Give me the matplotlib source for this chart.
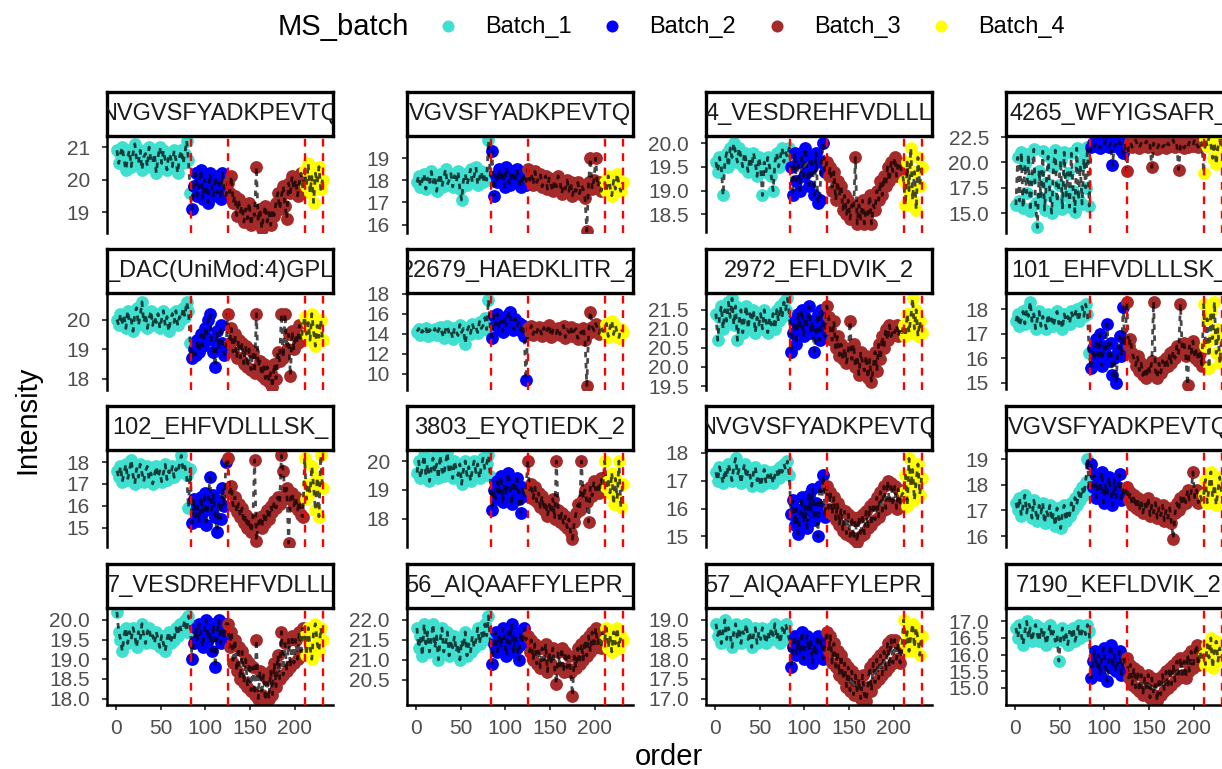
import numpy as np
import matplotlib
matplotlib.use("Agg")
import matplotlib.pyplot as plt

plt.rcParams["font.family"] = ["Liberation Sans", "DejaVu Sans"]

W, H, DPI = 1222, 769, 100

batch_names = ["Batch_1", "Batch_2", "Batch_3", "Batch_4"]
batch_colors = ["#40E0D0", "#0000FF", "#A52A2A", "#FFFF00"]
batch_start = [1, 85, 125, 211]      # first injection order of each batch
order_step = 2                         # every second injection
batch_breaks = [83.5, 125, 211, 231]

titles = [
    "NVGVSFYADKPEVTQ", "VGVSFYADKPEVTQ", "4_VESDREHFVDLLL", "4265_WFYIGSAFR_",
    "_DAC(UniMod:4)GPL", "22679_HAEDKLITR_2", "2972_EFLDVIK_2", "101_EHFVDLLLSK_",
    "102_EHFVDLLLSK_", "3803_EYQTIEDK_2", "NVGVSFYADKPEVTQ", "VGVSFYADKPEVTQ",
    "7_VESDREHFVDLLL", "56_AIQAAFFYLEPR_", "57_AIQAAFFYLEPR_", "7190_KEFLDVIK_2",
]

yticks = [
    [19, 20, 21], [16, 17, 18, 19], [18.5, 19, 19.5, 20], [15, 17.5, 20, 22.5],
    [18, 19, 20], [10, 12, 14, 16, 18], [19.5, 20, 20.5, 21, 21.5], [15, 16, 17, 18],
    [15, 16, 17, 18], [18, 19, 20], [15, 16, 17, 18], [16, 17, 18, 19],
    [18, 18.5, 19, 19.5, 20], [20.5, 21, 21.5, 22], [17, 17.5, 18, 18.5, 19], [15, 15.5, 16, 16.5, 17],
]

ylims = [
    (18.38, 21.34), (15.64, 20.0), (18.12, 20.15), (13.1, 22.6),
    (17.63, 20.9), (8.4, 18.05), (19.41, 21.94), (14.73, 18.65),
    (14.14, 18.55), (17.05, 20.38), (14.64, 18.1), (15.6, 19.35),
    (17.85, 20.3), (19.88, 22.3), (16.85, 19.3), (14.5, 17.4),
]

# intensities per panel: (Batch_1, Batch_2, Batch_3, Batch_4)
p01 = (
    [20.9, 20.5, 20.8, 21.0, 20.6, 20.3, 20.7, 20.9, 20.4, 20.8, 21.1, 20.6, 20.5, 20.9,
     20.3, 20.7, 20.8, 20.4, 21.0, 20.6, 20.5, 20.8, 20.2, 20.7, 21.0, 20.5, 20.9, 20.6,
     20.3, 20.8, 20.7, 20.4, 20.9, 20.6, 20.2, 20.7, 20.9, 20.5, 20.8, 21.2, 20.6, 19.6],
    [19.1, 19.8, 20.2, 19.5, 19.9, 20.3, 19.4, 20.0, 19.7, 19.3, 20.2, 19.8, 19.5, 20.1,
     19.6, 19.9, 19.4, 20.2, 19.7, 19.5],
    [19.9, 19.6, 20.1, 19.3, 19.5, 18.9, 19.4, 19.0, 19.2, 18.7, 19.1, 18.8, 19.3, 18.6,
     19.0, 18.9, 20.4, 18.7, 19.1, 18.5, 18.9, 19.2, 18.7, 19.0, 18.6, 19.1, 18.9, 19.3,
     19.6, 19.1, 19.5, 19.8, 19.2, 18.8, 19.9, 19.6, 20.1, 19.7, 20.0, 19.5, 19.9, 20.2, 19.7],
    [20.3, 19.8, 20.5, 19.6, 20.1, 19.3, 20.2, 19.9, 20.4, 19.7, 20.0],
)
p02 = (
    [17.9, 18.2, 17.7, 18.0, 18.3, 17.6, 18.1, 17.8, 18.4, 17.9, 18.2, 17.5, 18.0, 18.3,
     17.7, 18.1, 18.5, 17.8, 18.0, 18.3, 17.7, 18.2, 17.9, 18.4, 17.6, 17.1, 18.0, 18.3,
     17.8, 18.1, 18.5, 17.9, 18.2, 18.6, 17.8, 18.1, 18.4, 17.9, 18.3, 18.0, 19.8, 18.2],
    [19.3, 17.3, 18.2, 17.9, 18.5, 18.0, 18.4, 17.7, 18.6, 18.1, 17.8, 18.4, 18.2, 17.9,
     18.5, 18.0, 17.7, 18.3, 18.1, 17.8],
    [18.5, 18.0, 18.3, 17.8, 18.4, 17.9, 18.1, 18.3, 17.7, 18.0, 18.2, 17.6, 18.1, 17.8,
     17.5, 18.0, 17.7, 18.2, 17.9, 17.4, 17.8, 17.6, 18.0, 17.5, 17.9, 17.3, 17.7, 17.5,
     17.9, 17.4, 17.8, 17.6, 17.2, 15.7, 17.9, 19.0, 17.6, 18.0, 19.0, 17.7, 17.9, 17.5, 17.8],
    [17.9, 17.5, 18.2, 17.7, 17.3, 18.0, 17.6, 18.3, 17.8, 17.5, 17.9],
)
p03 = (
    [19.6, 19.4, 19.7, 19.5, 18.9, 19.6, 19.8, 19.5, 19.9, 19.7, 20.0, 19.8, 19.6, 19.9,
     19.7, 19.5, 19.8, 19.6, 19.4, 19.7, 19.5, 19.8, 19.6, 19.3, 19.7, 19.5, 18.9, 19.6,
     19.4, 19.7, 19.5, 19.3, 19.0, 19.6, 19.8, 19.5, 19.7, 19.9, 19.6, 19.8, 19.7, 19.9],
    [19.5, 18.9, 19.8, 19.2, 19.6, 19.0, 19.7, 19.3, 19.9, 19.4, 19.1, 19.7, 19.5, 18.9,
     19.8, 18.75, 18.8, 19.6, 20.0, 19.4],
    [19.6, 19.3, 19.5, 19.0, 19.4, 18.8, 19.2, 18.9, 19.1, 18.6, 18.9, 18.5, 18.8, 18.4,
     18.7, 18.6, 19.7, 18.3, 18.7, 18.4, 18.8, 18.3, 18.6, 18.5, 18.9, 18.3, 18.7, 18.6,
     19.0, 18.8, 19.2, 18.9, 19.3, 19.1, 19.5, 19.2, 19.6, 19.4, 19.7, 19.3, 19.6, 19.5, 19.4],
    [19.2, 18.7, 19.6, 19.0, 19.9, 18.8, 19.4, 18.6, 19.7, 19.1, 19.5],
)
p04 = (
    [15.8, 20.5, 16.2, 21.0, 15.5, 19.8, 17.0, 20.8, 15.2, 18.5, 21.3, 16.0, 13.6, 19.2,
     16.5, 21.1, 15.3, 18.0, 20.6, 16.8, 15.0, 19.5, 21.2, 16.1, 17.8, 20.2, 15.4, 21.0,
     16.7, 19.0, 15.6, 20.9, 17.2, 15.1, 21.4, 16.3, 19.7, 15.9, 20.4, 17.5, 21.5, 15.7],
    [21.5, 21.9, 21.6, 22.0, 21.7, 21.4, 21.8, 21.6, 22.1, 21.7, 21.5, 21.9, 19.7, 21.6,
     21.8, 21.5, 22.0, 21.2, 20.9, 21.7],
    [19.2, 21.6, 22.0, 21.5, 21.8, 22.2, 21.7, 21.4, 21.9, 21.6, 21.8, 22.1, 21.5, 21.7,
     19.5, 21.9, 21.6, 21.3, 21.8, 22.0, 21.5, 21.7, 21.4, 21.9, 21.6, 21.8, 22.2, 21.5,
     21.7, 19.3, 21.6, 21.9, 21.4, 21.8, 21.5, 22.0, 21.7, 21.6, 22.3, 21.8, 21.5, 22.1, 21.9],
    [19.0, 22.3, 21.6, 22.5, 21.8, 20.4, 22.0, 19.8, 21.5, 22.2, 21.3],
)
p05 = (
    [20.0, 19.8, 20.2, 19.9, 20.1, 19.7, 20.3, 19.9, 20.0, 19.6, 20.2, 20.4, 19.8, 20.1,
     20.6, 19.9, 20.2, 19.7, 20.0, 20.3, 19.8, 20.1, 19.9, 20.2, 19.7, 20.0, 20.3, 19.8,
     20.1, 19.6, 20.0, 20.2, 19.9, 20.3, 19.8, 20.1, 20.0, 20.4, 20.1, 20.6, 20.3, 19.2],
    [18.7, 19.0, 18.8, 19.3, 18.9, 19.5, 19.1, 19.7, 19.4, 20.0, 20.2, 19.3, 18.9, 18.4,
     19.6, 19.0, 19.8, 19.2, 18.8, 19.1],
    [20.2, 19.2, 19.7, 18.9, 19.5, 18.7, 19.3, 18.7, 19.2, 18.5, 19.1, 18.4, 19.0, 18.3,
     18.9, 18.2, 20.2, 18.4, 18.6, 18.1, 18.5, 18.0, 18.4, 17.9, 18.2, 17.7, 18.5, 18.0,
     18.9, 18.6, 20.2, 18.7, 20.2, 19.0, 19.5, 18.1, 19.6, 19.0, 19.5, 19.2, 19.8, 19.3, 19.7],
    [20.1, 19.5, 19.9, 19.3, 20.2, 19.6, 19.1, 19.8, 19.4, 20.0, 19.3],
)
p06 = (
    [14.2, 14.5, 13.9, 14.3, 14.1, 14.6, 13.8, 14.4, 14.2, 14.0, 14.5, 13.9, 14.3, 14.7,
     14.1, 13.6, 14.4, 14.8, 14.0, 14.3, 13.5, 14.6, 14.2, 13.8, 14.9, 14.1, 14.5, 13.0,
     14.2, 14.7, 14.0, 15.0, 14.3, 14.6, 14.1, 15.2, 14.5, 14.8, 15.6, 14.4, 17.4, 14.6],
    [13.6, 15.8, 14.9, 16.0, 14.5, 15.3, 14.2, 15.6, 14.8, 15.9, 16.2, 15.0, 14.4, 15.5,
     14.7, 15.1, 14.3, 14.9, 13.8, 9.4],
    [14.6, 14.2, 14.8, 13.9, 14.5, 14.1, 14.7, 14.3, 13.8, 14.6, 14.0, 14.4, 14.9, 13.7,
     14.3, 14.5, 14.0, 14.6, 13.9, 14.2, 14.8, 13.6, 14.4, 14.1, 14.7, 13.8, 14.3, 14.5,
     13.5, 14.2, 14.0, 14.6, 13.4, 8.8, 14.1, 16.2, 14.7, 14.3, 15.0, 14.5, 14.0, 14.8, 14.2],
    [14.3, 15.0, 13.7, 14.6, 15.3, 13.9, 14.8, 14.1, 13.6, 14.5, 14.2],
)
p07 = (
    [21.4, 20.7, 21.3, 21.6, 21.0, 21.5, 21.2, 21.7, 21.3, 21.8, 21.1, 21.6, 20.7, 21.2,
     21.5, 20.9, 21.3, 21.6, 21.0, 21.4, 21.2, 21.5, 20.9, 21.3, 21.1, 21.4, 21.0, 21.5,
     21.2, 20.9, 21.3, 21.1, 21.4, 21.0, 21.5, 21.2, 21.6, 21.3, 21.7, 21.5, 21.8, 21.4],
    [20.4, 20.9, 21.2, 20.6, 21.4, 21.0, 21.5, 20.8, 21.3, 21.1, 21.6, 20.9, 21.2, 20.4,
     21.0, 21.4, 20.7, 21.5, 21.1, 20.8],
    [21.6, 21.3, 21.0, 20.7, 21.2, 20.5, 20.8, 20.3, 20.6, 20.2, 20.5, 20.1, 20.4, 21.2,
     20.2, 20.6, 20.0, 20.3, 19.8, 20.4, 20.1, 19.9, 20.3, 19.7, 20.2, 19.6, 20.0, 20.4,
     19.9, 20.6, 20.2, 20.8, 20.5, 21.0, 20.7, 21.1, 20.8, 21.0, 20.9, 21.1, 20.8, 21.0, 20.9],
    [21.1, 20.8, 21.4, 20.9, 21.3, 21.8, 21.0, 21.5, 20.8, 21.2, 20.9],
)
p08 = (
    [17.5, 17.8, 17.3, 17.6, 17.9, 17.4, 18.0, 17.7, 18.3, 17.5, 17.8, 17.2, 17.6, 17.9,
     17.3, 17.7, 17.5, 17.2, 17.8, 17.4, 17.6, 17.3, 17.7, 17.9, 17.4, 17.6, 17.2, 17.8,
     17.5, 17.7, 17.4, 17.9, 17.6, 17.8, 18.0, 17.5, 17.9, 18.1, 17.7, 18.2, 17.8, 16.2],
    [15.6, 16.4, 15.9, 16.8, 16.1, 17.0, 15.7, 16.5, 16.2, 17.4, 15.9, 16.6, 15.3, 16.0,
     15.0, 16.3, 16.9, 16.1, 18.1, 16.5],
    [18.3, 16.5, 16.8, 16.2, 16.0, 15.7, 16.1, 15.5, 15.8, 15.3, 15.6, 15.2, 15.7, 15.4,
     15.9, 18.3, 15.5, 15.2, 15.8, 15.4, 15.9, 15.6, 16.0, 15.7, 16.2, 15.8, 16.3, 16.0,
     16.5, 16.2, 18.2, 16.4, 16.6, 16.1, 14.9, 16.5, 16.2, 16.7, 16.0, 16.4, 15.9, 16.2, 15.7],
    [18.2, 16.5, 17.6, 15.6, 17.9, 16.8, 18.3, 16.2, 17.2, 15.8, 16.9],
)
p09 = (
    [17.6, 17.3, 17.8, 17.1, 17.5, 17.9, 17.2, 17.6, 18.1, 17.4, 17.0, 17.7, 17.3, 17.9,
     17.5, 17.1, 17.6, 17.8, 17.2, 17.5, 17.0, 17.4, 17.8, 17.3, 17.6, 17.1, 17.5, 17.9,
     17.2, 17.6, 17.4, 17.8, 17.3, 17.7, 17.5, 17.9, 18.3, 17.6, 17.8, 17.4, 15.9, 17.7],
    [15.2, 16.3, 15.5, 16.0, 15.3, 16.4, 15.7, 16.6, 15.1, 16.1, 17.3, 15.8, 16.5, 15.5,
     14.8, 16.2, 15.4, 16.8, 16.0, 18.0],
    [18.2, 16.6, 16.9, 16.0, 16.4, 15.7, 16.1, 15.5, 15.9, 15.2, 15.6, 15.0, 15.4, 14.8,
     15.3, 18.1, 14.4, 15.1, 15.5, 15.0, 15.6, 15.2, 15.8, 15.4, 16.0, 15.7, 16.2, 15.9,
     16.4, 16.1, 18.3, 17.6, 16.5, 16.8, 14.3, 16.3, 16.6, 16.0, 16.4, 15.8, 16.2, 15.6, 15.5],
    [18.2, 16.3, 17.0, 16.6, 17.8, 16.9, 15.8, 17.3, 15.5, 18.3, 16.8],
)
p10 = (
    [19.6, 20.0, 19.4, 19.8, 20.2, 19.5, 19.9, 19.3, 19.7, 20.1, 19.6, 19.9, 19.4, 20.2,
     19.7, 19.5, 19.9, 20.3, 19.6, 19.8, 19.4, 20.0, 19.7, 19.5, 19.9, 19.2, 19.7, 20.0,
     19.5, 19.8, 19.3, 19.7, 20.0, 19.6, 19.9, 19.4, 19.8, 20.1, 19.7, 19.9, 20.2, 19.5],
    [18.3, 19.0, 18.7, 19.3, 18.9, 19.5, 18.6, 19.2, 18.8, 19.6, 19.1, 18.5, 19.3, 18.9,
     19.4, 18.7, 18.2, 19.1, 18.8, 19.0],
    [20.0, 19.0, 19.2, 18.7, 19.1, 18.6, 18.9, 18.4, 18.8, 18.3, 18.6, 18.1, 18.5, 18.2,
     18.7, 18.0, 20.0, 18.3, 17.9, 18.2, 17.8, 18.1, 17.7, 18.0, 17.5, 17.3, 17.9, 18.2,
     18.5, 18.3, 20.0, 18.7, 19.0, 18.6, 17.9, 19.1, 18.8, 19.3, 19.0, 19.2, 18.9, 19.4, 19.1],
    [20.0, 19.1, 19.3, 18.9, 19.6, 18.5, 19.4, 18.7, 20.0, 18.4, 19.2],
)
p11 = (
    [17.3, 17.0, 17.5, 17.2, 16.9, 17.4, 17.1, 17.6, 17.3, 17.0, 17.5, 17.8, 17.2, 17.4,
     16.9, 17.3, 17.6, 17.1, 17.4, 17.2, 16.8, 17.3, 17.5, 17.0, 17.2, 16.8, 17.1, 17.4,
     16.9, 17.2, 17.0, 17.3, 16.9, 17.2, 17.4, 17.1, 17.5, 17.3, 17.6, 17.4, 17.7, 17.2],
    [15.8, 16.3, 15.4, 16.0, 15.1, 15.7, 16.4, 15.5, 16.1, 15.3, 16.5, 15.9, 16.7, 15.6,
     16.2, 15.0, 16.8, 16.0, 17.2, 15.7],
    [16.8, 16.0, 16.6, 15.8, 16.4, 15.6, 16.2, 15.4, 16.0, 15.2, 15.9, 15.1, 15.8, 15.0,
     15.7, 14.9, 15.6, 14.8, 15.7, 15.0, 15.8, 15.1, 15.9, 15.3, 16.1, 15.4, 16.2, 15.6,
     16.4, 15.7, 16.6, 15.9, 16.8, 16.0, 17.0, 16.2, 16.9, 16.1, 16.8, 16.0, 16.7, 16.2, 16.5],
    [16.6, 17.2, 16.1, 17.8, 16.8, 17.4, 16.3, 17.0, 17.6, 16.5, 17.1],
)
p12 = (
    [17.3, 17.0, 17.5, 16.8, 17.2, 17.6, 16.9, 17.3, 17.1, 16.7, 17.4, 17.0, 16.6, 17.2,
     16.9, 17.3, 16.5, 17.0, 16.8, 17.2, 16.6, 16.9, 16.4, 17.1, 16.7, 16.3, 16.9, 17.2,
     16.6, 17.0, 16.8, 17.3, 17.0, 17.5, 17.2, 17.7, 17.4, 17.9, 17.6, 18.1, 19.0, 17.8],
    [18.8, 17.9, 18.4, 17.5, 18.1, 17.7, 18.5, 17.3, 18.0, 17.6, 18.3, 17.8, 17.2, 18.2,
     17.5, 17.9, 18.4, 17.4, 17.8, 17.6],
    [17.9, 17.4, 17.7, 17.2, 17.6, 17.1, 17.5, 17.0, 17.4, 16.9, 17.3, 17.0, 17.5, 16.8,
     17.2, 16.9, 17.3, 16.7, 17.1, 16.8, 17.2, 16.6, 17.0, 16.7, 17.1, 16.5, 15.9, 16.9,
     17.3, 17.0, 17.5, 17.2, 17.6, 17.3, 17.8, 17.4, 17.7, 18.5, 17.5, 17.8, 17.3, 17.6, 17.4],
    [17.6, 18.2, 17.3, 17.9, 18.5, 17.5, 18.0, 17.2, 17.8, 18.3, 17.7],
)
p13 = (
    [20.2, 19.7, 19.5, 19.2, 19.6, 19.8, 19.4, 19.7, 19.5, 19.8, 19.6, 19.3, 19.7, 19.5,
     19.9, 19.6, 19.4, 19.7, 19.8, 19.5, 19.6, 19.4, 19.7, 19.5, 19.3, 19.6, 19.4, 19.2,
     19.5, 19.7, 19.4, 19.6, 19.5, 19.8, 19.6, 19.9, 19.7, 19.8, 20.0, 19.7, 20.1, 19.9],
    [19.0, 19.4, 19.8, 19.5, 19.9, 19.6, 19.3, 19.8, 20.0, 19.5, 19.7, 19.2, 19.9, 18.8,
     19.6, 20.0, 19.4, 19.8, 19.5, 19.9],
    [19.9, 19.3, 19.7, 18.9, 19.5, 18.7, 19.3, 18.5, 19.2, 18.4, 19.0, 18.3, 18.9, 18.2,
     18.8, 18.1, 19.5, 18.0, 18.7, 18.1, 18.6, 17.95, 18.5, 18.0, 18.7, 18.1, 18.9, 18.3,
     19.1, 18.5, 19.7, 18.6, 19.4, 18.7, 19.5, 18.8, 19.6, 18.9, 19.5, 19.0, 19.7, 19.1, 19.8],
    [19.6, 19.1, 19.8, 19.3, 19.0, 19.7, 19.9, 19.4, 19.2, 19.8, 19.5],
)
p14 = (
    [21.8, 21.3, 21.6, 21.1, 21.9, 21.4, 21.7, 21.2, 21.5, 21.9, 21.3, 21.6, 21.0, 21.5,
     21.8, 21.2, 21.4, 21.7, 21.1, 21.5, 21.3, 21.6, 21.2, 21.4, 21.0, 21.5, 21.3, 21.7,
     21.1, 21.4, 21.2, 21.6, 21.3, 21.5, 21.8, 21.4, 21.7, 21.5, 21.9, 21.6, 22.1, 21.5],
    [20.9, 21.4, 21.7, 21.2, 21.6, 21.3, 21.8, 21.5, 21.1, 21.7, 21.4, 21.9, 21.2, 21.6,
     21.3, 21.0, 21.7, 21.4, 21.8, 21.5],
    [21.6, 21.2, 21.5, 21.0, 21.4, 20.9, 21.3, 20.8, 21.3, 20.9, 21.4, 20.7, 21.2, 20.9,
     21.3, 20.8, 20.4, 21.2, 20.8, 21.3, 20.7, 21.2, 20.8, 21.1, 20.7, 20.1, 21.1, 20.8,
     21.3, 20.9, 21.4, 21.0, 21.5, 21.1, 21.6, 21.2, 21.7, 21.3, 21.8, 21.4, 21.6, 21.3, 21.7],
    [21.5, 21.8, 21.3, 21.6, 21.2, 21.7, 21.4, 21.8, 21.3, 21.6, 21.5],
)
p15 = (
    [18.9, 18.6, 18.8, 18.4, 18.7, 19.0, 18.5, 18.8, 18.6, 18.3, 18.7, 18.9, 18.5, 18.8,
     18.4, 18.7, 18.6, 18.9, 18.5, 18.7, 18.3, 18.6, 18.8, 18.4, 18.7, 18.5, 18.8, 18.6,
     18.4, 18.7, 18.5, 18.8, 18.6, 18.9, 18.5, 18.7, 18.4, 18.8, 18.6, 18.9, 18.7, 18.5],
    [17.8, 18.3, 18.6, 18.1, 18.5, 18.2, 18.7, 18.0, 18.4, 18.6, 18.2, 18.5, 17.9, 18.4,
     18.1, 18.6, 18.3, 18.5, 18.0, 18.4],
    [18.7, 18.2, 18.6, 17.9, 18.4, 17.8, 18.2, 17.6, 18.1, 17.5, 17.9, 17.3, 17.8, 17.2,
     17.7, 17.1, 17.6, 17.2, 17.5, 17.0, 17.6, 17.1, 16.95, 17.3, 17.8, 17.2, 17.9, 17.4,
     18.0, 17.5, 18.1, 17.6, 18.2, 17.7, 18.4, 17.8, 18.5, 17.9, 18.5, 18.0, 18.4, 17.9, 18.3],
    [19.0, 18.4, 18.7, 18.2, 18.6, 18.9, 18.3, 18.8, 18.5, 18.1, 18.6],
)
p16 = (
    [16.8, 16.5, 16.9, 16.6, 16.3, 16.7, 17.0, 16.5, 16.8, 16.4, 16.7, 16.9, 16.6, 16.4,
     16.8, 16.5, 16.7, 16.3, 16.6, 16.9, 16.5, 16.7, 16.4, 16.6, 15.8, 16.5, 16.8, 16.4,
     16.6, 16.3, 16.7, 16.5, 16.8, 16.4, 16.6, 16.9, 16.5, 16.7, 16.8, 16.6, 16.9, 16.7],
    [15.3, 15.8, 16.1, 15.6, 16.0, 15.4, 15.9, 16.2, 15.7, 15.2, 15.9, 16.3, 15.6, 16.0,
     15.5, 15.8, 16.1, 15.4, 15.9, 15.7],
    [15.9, 15.3, 15.7, 15.1, 15.6, 15.0, 15.5, 14.9, 15.4, 14.8, 15.3, 14.9, 15.4, 14.7,
     15.3, 14.8, 15.2, 14.6, 15.3, 14.8, 15.4, 14.9, 15.5, 15.0, 15.6, 15.1, 15.7, 15.2,
     15.8, 15.3, 15.9, 15.4, 15.8, 15.3, 16.0, 15.5, 16.1, 15.6, 16.0, 16.3, 15.7, 16.1, 15.8],
    [16.0, 15.7, 16.3, 15.9, 16.5, 15.6, 16.1, 16.4, 15.8, 16.2, 15.9],
)

panels = [p01, p02, p03, p04, p05, p06, p07, p08,
          p09, p10, p11, p12, p13, p14, p15, p16]


def box(x0, y0, w, h):
    # pixel box (top-left origin) -> figure fraction
    return [x0 / W, 1 - (y0 + h) / H, w / W, h / H]


fig = plt.figure(figsize=(W / DPI, H / DPI), dpi=DPI)

col_x = [107, 407, 706, 1006]
row_y = [136, 293, 450, 608]
pw, ph, sh = 226, 96.5, 44
tick_kw = dict(colors="#333333", labelcolor="#4D4D4D", labelsize=15,
               length=3.8, width=1.3)

for i, vals in enumerate(panels):
    r, c = divmod(i, 4)
    ax = fig.add_axes(box(col_x[c], row_y[r], pw, ph))
    xs, ys = [], []
    for b, v in enumerate(vals):
        x = batch_start[b] + order_step * np.arange(len(v))
        ax.scatter(x, v, s=85, color=batch_colors[b], linewidths=0, zorder=2)
        xs.append(x)
        ys.append(np.asarray(v))
    ax.plot(np.concatenate(xs), np.concatenate(ys), color="black", alpha=0.72,
            lw=2.0, ls=(0, (2, 2)), zorder=3)
    for xb in batch_breaks:
        ax.axvline(xb, color="red", lw=1.7, ls=(0, (3.3, 2.8)), zorder=4)

    ax.set_xlim(-10.1, 242.7)
    ax.set_ylim(*ylims[i])
    ticks = yticks[i]
    fmt = "{:.1f}" if any(t != int(t) for t in ticks) else "{:.0f}"
    ax.set_yticks(ticks)
    ax.set_yticklabels([fmt.format(t) for t in ticks])
    ax.tick_params(axis="y", pad=8.5, **tick_kw)
    for s in ("top", "right"):
        ax.spines[s].set_visible(False)
    ax.spines["left"].set_linewidth(1.8)
    if r == 3:
        ax.set_xticks([0, 50, 100, 150, 200])
        ax.tick_params(axis="x", pad=7, **tick_kw)
        ax.spines["bottom"].set_linewidth(1.8)
    else:
        ax.set_xticks([])
        ax.spines["bottom"].set_visible(False)

    st = fig.add_axes(box(col_x[c], row_y[r] - sh, pw, sh))
    st.set_xticks([])
    st.set_yticks([])
    st.set_facecolor("white")
    for s in st.spines.values():
        s.set_linewidth(2.4)
        s.set_color("black")
    st.text(0.5, 0.5, titles[i], transform=st.transAxes, ha="center", va="center",
            fontsize=17, color="#1A1A1A", clip_on=True)

# overlay in pixel coordinates for the legend and axis titles
ov = fig.add_axes([0, 0, 1, 1])
ov.set_xlim(0, W)
ov.set_ylim(H, 0)
ov.axis("off")
ov.text(278, 27, "MS_batch", fontsize=21, ha="left", va="center")
key_x = [448, 612, 777, 941]
for kx, name, col in zip(key_x, batch_names, batch_colors):
    ov.scatter([kx], [26], s=75, color=col, linewidths=0)
    ov.text(kx + 37, 27, name, fontsize=17, ha="left", va="center")
ov.text(27, 420, "Intensity", fontsize=21, rotation=90, ha="center", va="center")
ov.text(669, 757, "order", fontsize=21, ha="center", va="center")

fig.savefig("out.png", dpi=DPI)
